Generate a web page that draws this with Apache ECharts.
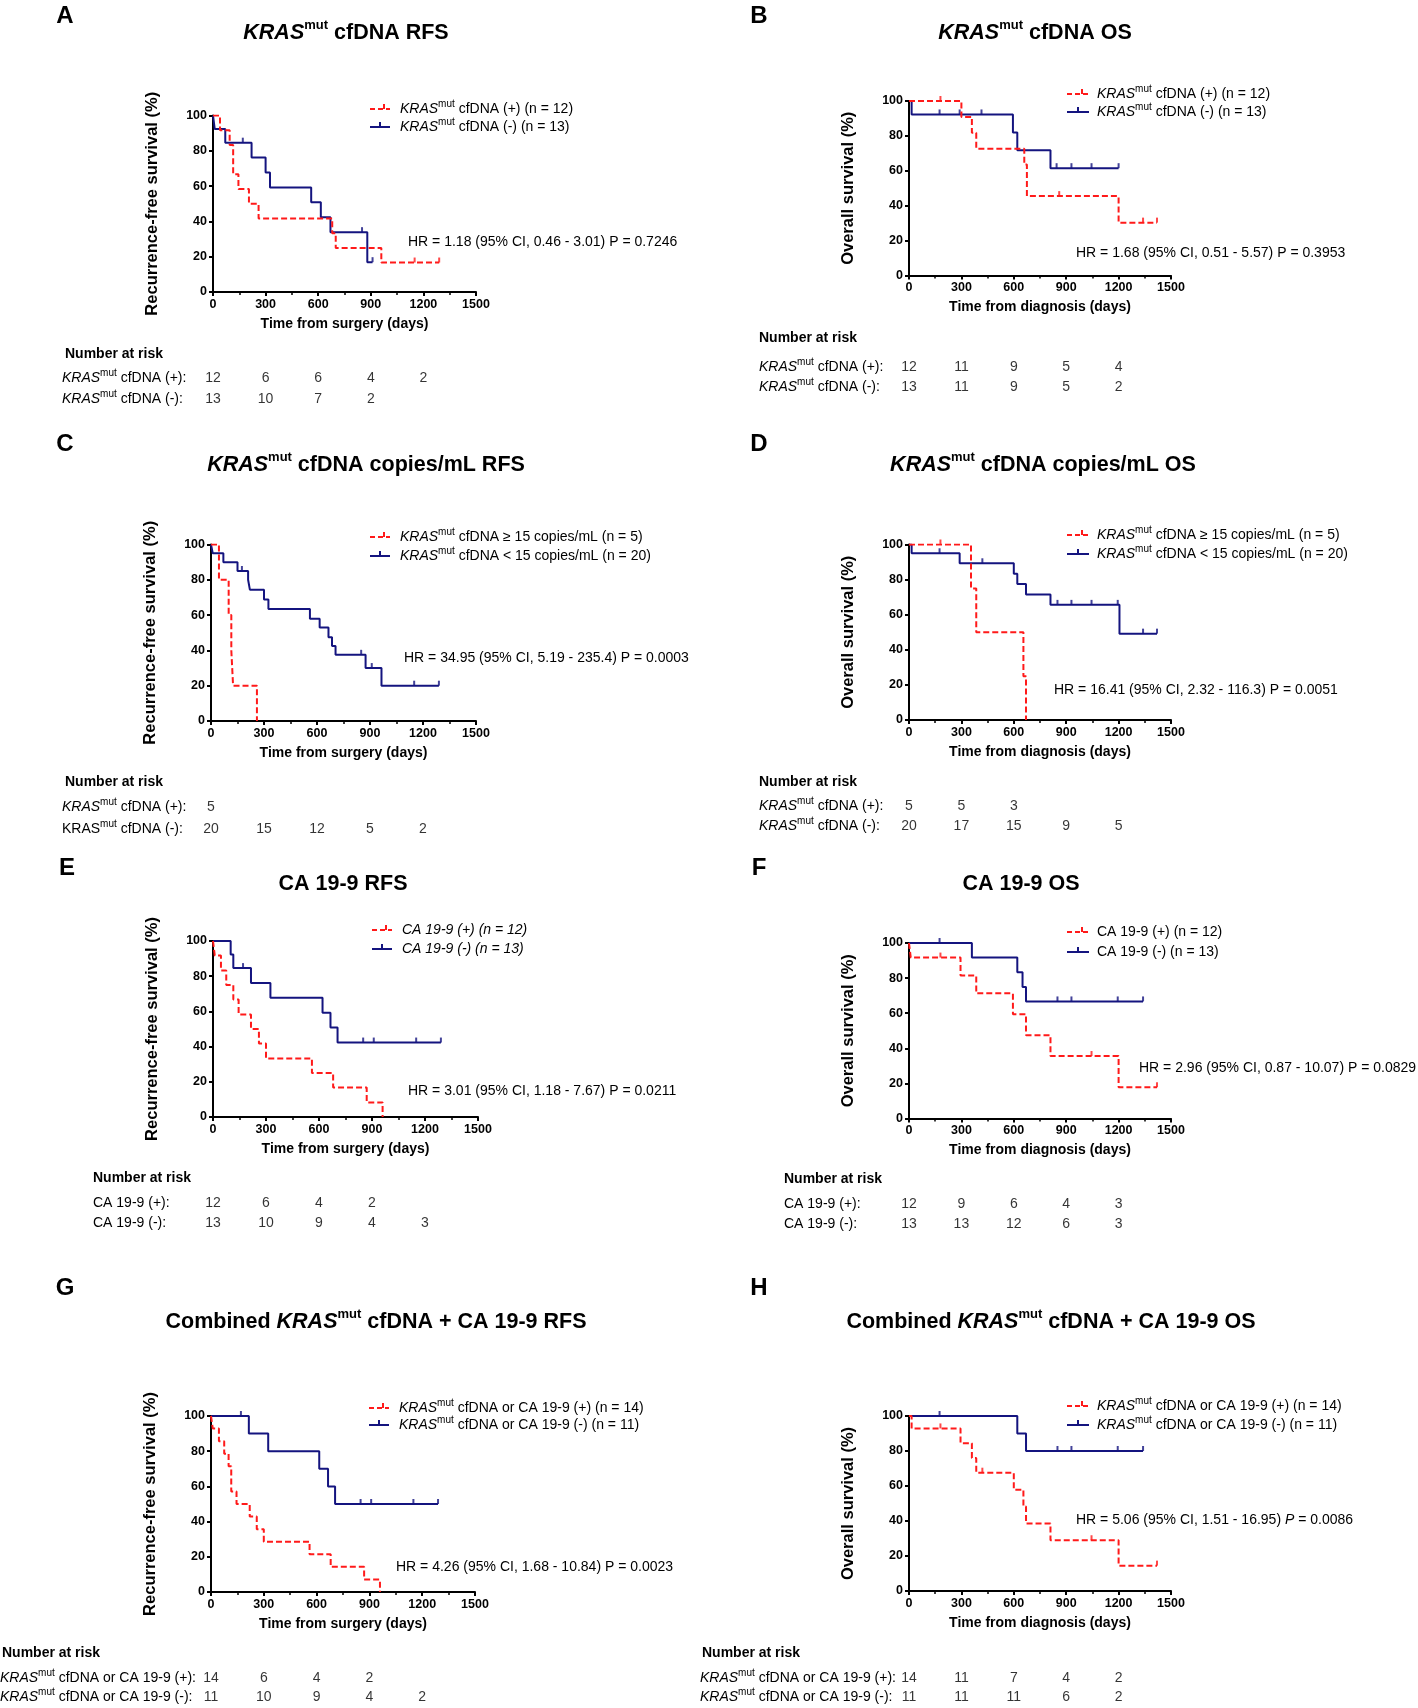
<!DOCTYPE html>
<html><head><meta charset="utf-8">
<script src="https://cdn.jsdelivr.net/npm/echarts@6/dist/echarts.min.js"></script>
<style>html,body{margin:0;padding:0;background:#fff}#c{width:1418px;height:1708px}</style>
</head><body><div id="c"></div>
<script>
// ---------------- DATA ----------------
const riskTimes = [0, 300, 600, 900, 1200];

// A: KRAS cfDNA RFS
const A_pos_t = [0, 40, 95, 115, 145, 205, 260, 680, 700, 960];
const A_pos_s = [100, 91.7, 83.3, 66.7, 58.3, 50, 41.7, 33.3, 25, 16.7];
const A_pos_end = 1290, A_pos_cens = [1150, 1290];
const A_neg_t = [0, 10, 70, 220, 300, 325, 560, 615, 670, 880];
const A_neg_s = [100, 92.3, 84.6, 76.2, 67.7, 59.2, 50.8, 42.3, 33.9, 16.9];
const A_neg_end = 910, A_neg_cens = [170, 850, 910];
const A_risk_pos = [12, 6, 6, 4, 2];
const A_risk_neg = [13, 10, 7, 2];

// B: KRAS cfDNA OS
const B_pos_t = [0, 300, 360, 385, 660, 675, 1200];
const B_pos_s = [100, 90.9, 81.8, 72.7, 63.6, 45.5, 30.3];
const B_pos_end = 1420, B_pos_cens = [180, 860, 1340, 1420];
const B_neg_t = [0, 15, 595, 620, 810];
const B_neg_s = [100, 92.3, 82, 71.8, 61.5];
const B_neg_end = 1200, B_neg_cens = [175, 290, 415, 845, 930, 1045, 1200];
const B_risk_pos = [12, 11, 9, 5, 4];
const B_risk_neg = [13, 11, 9, 5, 2];

// C: KRAS cfDNA copies/mL RFS
const C_pos_t = [0, 45, 100, 115, 125, 260];
const C_pos_s = [100, 80, 60, 40, 20, 0];
const C_pos_end = 260, C_pos_cens = [];
const C_neg_t = [0, 10, 70, 150, 210, 220, 300, 325, 560, 615, 665, 685, 705, 875, 965];
const C_neg_s = [100, 95, 90, 85, 80, 74.4, 68.8, 63.5, 58, 53, 47.5, 42.5, 37.5, 30, 20];
const C_neg_end = 1290, C_neg_cens = [175, 850, 910, 1150, 1290];
const C_risk_pos = [5];
const C_risk_neg = [20, 15, 12, 5, 2];

// D: KRAS cfDNA copies/mL OS
const D_pos_t = [0, 355, 385, 655, 670];
const D_pos_s = [100, 75, 50, 25, 0];
const D_pos_end = 670, D_pos_cens = [180];
const D_neg_t = [0, 15, 290, 600, 620, 670, 810, 1205];
const D_neg_s = [100, 95, 89.3, 83.4, 77.5, 71.5, 65.6, 49.2];
const D_neg_end = 1420, D_neg_cens = [175, 420, 850, 930, 1045, 1195, 1340, 1420];
const D_risk_pos = [5, 5, 3];
const D_risk_neg = [20, 17, 15, 9, 5];

// E: CA 19-9 RFS
const E_pos_t = [0, 10, 45, 75, 115, 145, 215, 260, 300, 560, 680, 870, 960];
const E_pos_s = [100, 91.7, 83.3, 75, 66.7, 58.3, 50, 41.7, 33.3, 25, 16.7, 8.3, 0];
const E_pos_end = 960, E_pos_cens = [];
const E_neg_t = [0, 100, 115, 215, 325, 620, 665, 705];
const E_neg_s = [100, 92.3, 84.6, 76.2, 67.7, 59.2, 50.8, 42.3];
const E_neg_end = 1290, E_neg_cens = [170, 850, 910, 1150, 1290];
const E_risk_pos = [12, 6, 4, 2];
const E_risk_neg = [13, 10, 9, 4, 3];

// F: CA 19-9 OS
const F_pos_t = [0, 10, 295, 385, 595, 670, 810, 1200];
const F_pos_s = [100, 91.7, 81.5, 71.3, 59.4, 47.5, 35.6, 17.8];
const F_pos_end = 1420, F_pos_cens = [180, 1045, 1420];
const F_neg_t = [0, 360, 620, 650, 670];
const F_neg_s = [100, 91.7, 83.3, 75, 66.7];
const F_neg_end = 1340, F_neg_cens = [175, 850, 930, 1195, 1340];
const F_risk_pos = [12, 9, 6, 4, 3];
const F_risk_neg = [13, 13, 12, 6, 3];

// G: Combined RFS
const G_pos_t = [0, 10, 45, 75, 100, 115, 145, 220, 260, 300, 560, 680, 870, 960];
const G_pos_s = [100, 92.9, 85.7, 78.6, 71.4, 57.1, 50, 42.9, 35.7, 28.6, 21.4, 14.3, 7.1, 0];
const G_pos_end = 960, G_pos_cens = [];
const G_neg_t = [0, 215, 325, 615, 665, 705];
const G_neg_s = [100, 90, 80, 70, 60, 50];
const G_neg_end = 1290, G_neg_cens = [170, 850, 910, 1150, 1290];
const G_risk_pos = [14, 6, 4, 2];
const G_risk_neg = [11, 10, 9, 4, 2];

// H: Combined OS
const H_pos_t = [0, 15, 295, 360, 385, 600, 655, 670, 810, 1200];
const H_pos_s = [100, 92.9, 84.5, 76, 67.6, 57.9, 48.3, 38.6, 29, 14.5];
const H_pos_end = 1420, H_pos_cens = [180, 420, 1045, 1420];
const H_neg_t = [0, 620, 670];
const H_neg_s = [100, 90, 80];
const H_neg_end = 1340, H_neg_cens = [175, 850, 930, 1195, 1340];
const H_risk_pos = [14, 11, 7, 4, 2];
const H_risk_neg = [11, 11, 11, 6, 2];

// ---------------- LAYOUT / STYLE ----------------
const FF = '"Liberation Sans", Arial, Helvetica, sans-serif';
const RED = '#ff1a1a', BLUE = '#14147f';

const RICH14 = {
  n: {fontSize: 14, fontFamily: FF, fontWeight: 'normal', fontStyle: 'normal', fill: '#000', color: '#000', lineHeight: 20, verticalAlign: 'middle'},
  k: {fontSize: 14, fontFamily: FF, fontWeight: 'normal', fontStyle: 'italic', fill: '#000', color: '#000', lineHeight: 20, verticalAlign: 'middle'},
  s: {fontSize: 10, fontFamily: FF, fontWeight: 'normal', fontStyle: 'normal', fill: '#000', color: '#000', lineHeight: 12, verticalAlign: 'top'}
};
const RICHT = {
  n: {fontSize: 21.5, fontFamily: FF, fontWeight: 'bold', fontStyle: 'normal', fill: '#000', color: '#000', lineHeight: 28, verticalAlign: 'middle'},
  k: {fontSize: 21.5, fontFamily: FF, fontWeight: 'bold', fontStyle: 'italic', fill: '#000', color: '#000', lineHeight: 28, verticalAlign: 'middle'},
  s: {fontSize: 13, fontFamily: FF, fontWeight: 'bold', fontStyle: 'normal', fill: '#000', color: '#000', lineHeight: 15, verticalAlign: 'top'}
};

const KP = '{k|KRAS}{s|mut}';
const panels = [
  {letter: 'A', lx: 65, ly: 16, title: KP + '{n| cfDNA RFS}', tx: 346, ty: 33,
   grid: {left: 213, top: 115.5, width: 263, height: 176.5},
   yName: 'Recurrence-free survival (%)', xName: 'Time from surgery (days)',
   pos: {t: A_pos_t, s: A_pos_s, end: A_pos_end, cens: A_pos_cens},
   neg: {t: A_neg_t, s: A_neg_s, end: A_neg_end, cens: A_neg_cens},
   leg: {x1: 370, x2: 390, tx: 400, y1: 109, y2: 127, l1: KP + '{n| cfDNA (+) (n = 12)}', l2: KP + '{n| cfDNA (-) (n = 13)}'},
   hr: {x: 408, y: 242, text: '{n|HR = 1.18 (95% CI, 0.46 - 3.01) P = 0.7246}'},
   risk: {hx: 65, hy: 354, lx: 62, y1: 378, y2: 399, l1: KP + '{n| cfDNA (+):}', l2: KP + '{n| cfDNA (-):}', pos: A_risk_pos, neg: A_risk_neg}},
  {letter: 'B', lx: 759, ly: 16, title: KP + '{n| cfDNA OS}', tx: 1035, ty: 33,
   grid: {left: 909, top: 101, width: 262, height: 174.5},
   yName: 'Overall survival (%)', xName: 'Time from diagnosis (days)',
   pos: {t: B_pos_t, s: B_pos_s, end: B_pos_end, cens: B_pos_cens},
   neg: {t: B_neg_t, s: B_neg_s, end: B_neg_end, cens: B_neg_cens},
   leg: {x1: 1067, x2: 1089, tx: 1097, y1: 94, y2: 112, l1: KP + '{n| cfDNA (+) (n = 12)}', l2: KP + '{n| cfDNA (-) (n = 13)}'},
   hr: {x: 1076, y: 253, text: '{n|HR = 1.68 (95% CI, 0.51 - 5.57) P = 0.3953}'},
   risk: {hx: 759, hy: 338, lx: 759, y1: 367, y2: 387, l1: KP + '{n| cfDNA (+):}', l2: KP + '{n| cfDNA (-):}', pos: B_risk_pos, neg: B_risk_neg}},
  {letter: 'C', lx: 65, ly: 444, title: KP + '{n| cfDNA copies/mL RFS}', tx: 366, ty: 465,
   grid: {left: 211, top: 544.5, width: 265, height: 176.5},
   yName: 'Recurrence-free survival (%)', xName: 'Time from surgery (days)',
   pos: {t: C_pos_t, s: C_pos_s, end: C_pos_end, cens: C_pos_cens},
   neg: {t: C_neg_t, s: C_neg_s, end: C_neg_end, cens: C_neg_cens},
   leg: {x1: 370, x2: 390, tx: 400, y1: 537, y2: 556, l1: KP + '{n| cfDNA ≥ 15 copies/mL (n = 5)}', l2: KP + '{n| cfDNA < 15 copies/mL (n = 20)}'},
   hr: {x: 404, y: 658, text: '{n|HR = 34.95 (95% CI, 5.19 - 235.4) P = 0.0003}'},
   risk: {hx: 65, hy: 782, lx: 62, y1: 807, y2: 829, l1: KP + '{n| cfDNA (+):}', l2: '{n|KRAS}{s|mut}{n| cfDNA (-):}', pos: C_risk_pos, neg: C_risk_neg}},
  {letter: 'D', lx: 759, ly: 444, title: KP + '{n| cfDNA copies/mL OS}', tx: 1043, ty: 465,
   grid: {left: 909, top: 544.5, width: 262, height: 175.5},
   yName: 'Overall survival (%)', xName: 'Time from diagnosis (days)',
   pos: {t: D_pos_t, s: D_pos_s, end: D_pos_end, cens: D_pos_cens},
   neg: {t: D_neg_t, s: D_neg_s, end: D_neg_end, cens: D_neg_cens},
   leg: {x1: 1067, x2: 1089, tx: 1097, y1: 535, y2: 554, l1: KP + '{n| cfDNA ≥ 15 copies/mL (n = 5)}', l2: KP + '{n| cfDNA < 15 copies/mL (n = 20)}'},
   hr: {x: 1054, y: 690, text: '{n|HR = 16.41 (95% CI, 2.32 - 116.3) P = 0.0051}'},
   risk: {hx: 759, hy: 782, lx: 759, y1: 806, y2: 826, l1: KP + '{n| cfDNA (+):}', l2: KP + '{n| cfDNA (-):}', pos: D_risk_pos, neg: D_risk_neg}},
  {letter: 'E', lx: 67, ly: 868, title: '{n|CA 19-9 RFS}', tx: 343, ty: 884,
   grid: {left: 213, top: 941, width: 265, height: 176},
   yName: 'Recurrence-free survival (%)', xName: 'Time from surgery (days)',
   pos: {t: E_pos_t, s: E_pos_s, end: E_pos_end, cens: E_pos_cens},
   neg: {t: E_neg_t, s: E_neg_s, end: E_neg_end, cens: E_neg_cens},
   leg: {x1: 372, x2: 392, tx: 402, y1: 930, y2: 949, l1: '{k|CA 19-9 (+) (n = 12)}', l2: '{k|CA 19-9 (-) (n = 13)}'},
   hr: {x: 408, y: 1091, text: '{n|HR = 3.01 (95% CI, 1.18 - 7.67) P = 0.0211}'},
   risk: {hx: 93, hy: 1178, lx: 93, y1: 1203, y2: 1223, l1: '{n|CA 19-9 (+):}', l2: '{n|CA 19-9 (-):}', pos: E_risk_pos, neg: E_risk_neg}},
  {letter: 'F', lx: 759, ly: 868, title: '{n|CA 19-9 OS}', tx: 1021, ty: 884,
   grid: {left: 909, top: 943, width: 262, height: 175.5},
   yName: 'Overall survival (%)', xName: 'Time from diagnosis (days)',
   pos: {t: F_pos_t, s: F_pos_s, end: F_pos_end, cens: F_pos_cens},
   neg: {t: F_neg_t, s: F_neg_s, end: F_neg_end, cens: F_neg_cens},
   leg: {x1: 1067, x2: 1089, tx: 1097, y1: 932, y2: 952, l1: '{n|CA 19-9 (+) (n = 12)}', l2: '{n|CA 19-9 (-) (n = 13)}'},
   hr: {x: 1139, y: 1068, text: '{n|HR = 2.96 (95% CI, 0.87 - 10.07) P = 0.0829}'},
   risk: {hx: 784, hy: 1179, lx: 784, y1: 1204, y2: 1224, l1: '{n|CA 19-9 (+):}', l2: '{n|CA 19-9 (-):}', pos: F_risk_pos, neg: F_risk_neg}},
  {letter: 'G', lx: 65, ly: 1288, title: '{n|Combined }' + KP + '{n| cfDNA + CA 19-9 RFS}', tx: 376, ty: 1322,
   grid: {left: 211, top: 1416, width: 264, height: 176},
   yName: 'Recurrence-free survival (%)', xName: 'Time from surgery (days)',
   pos: {t: G_pos_t, s: G_pos_s, end: G_pos_end, cens: G_pos_cens},
   neg: {t: G_neg_t, s: G_neg_s, end: G_neg_end, cens: G_neg_cens},
   leg: {x1: 369, x2: 389, tx: 399, y1: 1408, y2: 1425, l1: KP + '{n| cfDNA or CA 19-9 (+) (n = 14)}', l2: KP + '{n| cfDNA or CA 19-9 (-) (n = 11)}'},
   hr: {x: 396, y: 1567, text: '{n|HR = 4.26 (95% CI, 1.68 - 10.84) P = 0.0023}'},
   risk: {hx: 2, hy: 1653, lx: 0, y1: 1678, y2: 1697, l1: KP + '{n| cfDNA or CA 19-9 (+):}', l2: KP + '{n| cfDNA or CA 19-9 (-):}', pos: G_risk_pos, neg: G_risk_neg}},
  {letter: 'H', lx: 759, ly: 1288, title: '{n|Combined }' + KP + '{n| cfDNA + CA 19-9 OS}', tx: 1051, ty: 1322,
   grid: {left: 909, top: 1416, width: 262, height: 175},
   yName: 'Overall survival (%)', xName: 'Time from diagnosis (days)',
   pos: {t: H_pos_t, s: H_pos_s, end: H_pos_end, cens: H_pos_cens},
   neg: {t: H_neg_t, s: H_neg_s, end: H_neg_end, cens: H_neg_cens},
   leg: {x1: 1067, x2: 1089, tx: 1097, y1: 1406, y2: 1425, l1: KP + '{n| cfDNA or CA 19-9 (+) (n = 14)}', l2: KP + '{n| cfDNA or CA 19-9 (-) (n = 11)}'},
   hr: {x: 1076, y: 1520, text: '{n|HR = 5.06 (95% CI, 1.51 - 16.95) }{k|P}{n| = 0.0086}'},
   risk: {hx: 702, hy: 1653, lx: 700, y1: 1678, y2: 1697, l1: KP + '{n| cfDNA or CA 19-9 (+):}', l2: KP + '{n| cfDNA or CA 19-9 (-):}', pos: H_risk_pos, neg: H_risk_neg}}
];

// ---------------- BUILD ----------------
function km(t, s, end) {
  const d = t.map((x, i) => [x, s[i]]);
  if (end > t[t.length - 1]) d.push([end, s[s.length - 1]]);
  return d;
}
function survAt(t, s, c) {
  let v = s[0];
  for (let i = 0; i < t.length; i++) if (t[i] <= c) v = s[i];
  return v;
}
function txt(x, y, text, rich, extra) {
  return Object.assign({
    type: 'text', x: x, y: y, silent: true,
    style: {text: text, rich: rich, fill: '#000', fontFamily: FF, fontSize: 14,
      align: 'left', verticalAlign: 'middle', textAlign: 'left', textVerticalAlign: 'middle'}
  }, extra || {});
}

const option = {backgroundColor: '#fff', animation: false, grid: [], xAxis: [], yAxis: [], series: [], graphic: {elements: []}};
const G = option.graphic.elements;

panels.forEach(p => {
  const gi = option.grid.length;
  option.grid.push(Object.assign({containLabel: false}, p.grid));
  const lab = {color: '#000', fontWeight: 'bold', fontSize: 12.5, fontFamily: FF, formatter: v => String(v)};
  option.xAxis.push({
    gridIndex: gi, type: 'value', min: 0, max: 1500, interval: 300,
    axisLine: {show: true, onZero: false, lineStyle: {color: '#000', width: 2}},
    axisTick: {show: true, length: 4, lineStyle: {color: '#000', width: 2}},
    minorTick: {show: true, splitNumber: 2, length: 3, lineStyle: {color: '#000', width: 1.5}},
    splitLine: {show: false},
    axisLabel: Object.assign({margin: 6}, lab),
    name: p.xName, nameLocation: 'middle', nameGap: 25,
    nameTextStyle: {color: '#000', fontWeight: 'bold', fontSize: 14, fontFamily: FF}
  });
  option.yAxis.push({
    gridIndex: gi, type: 'value', min: 0, max: 100, interval: 20,
    axisLine: {show: true, onZero: false, lineStyle: {color: '#000', width: 2}},
    axisTick: {show: true, length: 4, lineStyle: {color: '#000', width: 2}},
    splitLine: {show: false},
    axisLabel: Object.assign({margin: 6}, lab),
    name: p.yName, nameLocation: 'middle', nameGap: 52,
    nameTextStyle: {color: '#000', fontWeight: 'bold', fontSize: 16.5, fontFamily: FF}
  });
  [[p.neg, BLUE, false], [p.pos, RED, true]].forEach(([c, color, dashed]) => {
    option.series.push({
      type: 'line', xAxisIndex: gi, yAxisIndex: gi, step: 'end', symbol: 'none', silent: true,
      data: km(c.t, c.s, c.end), z: dashed ? 4 : 3,
      lineStyle: {color: color, width: 2, type: dashed ? [6, 3] : 'solid'}
    });
    if (c.cens.length) option.series.push({
      type: 'scatter', xAxisIndex: gi, yAxisIndex: gi, symbol: 'rect', symbolSize: [2, 5], symbolOffset: [0, -2.5],
      silent: true, z: dashed ? 4 : 3, itemStyle: {color: color},
      data: c.cens.map(x => [x, survAt(c.t, c.s, x)])
    });
  });

  // risk table grid (shares x scale with plot)
  const ri = option.grid.length;
  option.grid.push({left: p.grid.left, width: p.grid.width, top: p.risk.y1, height: p.risk.y2 - p.risk.y1, containLabel: false});
  option.xAxis.push({gridIndex: ri, type: 'value', min: 0, max: 1500, show: false});
  option.yAxis.push({gridIndex: ri, type: 'value', min: 0, max: 1, inverse: true, show: false});
  option.series.push({
    type: 'scatter', xAxisIndex: ri, yAxisIndex: ri, symbolSize: 1, silent: true,
    itemStyle: {color: 'rgba(0,0,0,0)'},
    label: {show: true, position: 'inside', color: '#000', fontSize: 14, fontFamily: FF, formatter: q => String(q.data[2])},
    data: p.risk.pos.map((v, i) => [riskTimes[i], 0, v]).concat(p.risk.neg.map((v, i) => [riskTimes[i], 1, v]))
  });

  // panel letter + title
  G.push(txt(p.lx, p.ly, p.letter, null, {style: {text: p.letter, fill: '#000', fontFamily: FF, fontSize: 24, fontWeight: 'bold',
    align: 'center', verticalAlign: 'middle', textAlign: 'center', textVerticalAlign: 'middle'}}));
  const t = txt(p.tx, p.ty, p.title, RICHT);
  t.style.align = t.style.textAlign = 'center';
  G.push(t);

  // legend
  const L = p.leg;
  [[L.y1, RED, true, L.l1], [L.y2, BLUE, false, L.l2]].forEach(([y, color, dashed, label]) => {
    G.push({type: 'line', silent: true, shape: {x1: L.x1, y1: y, x2: L.x2, y2: y},
      style: {stroke: color, lineWidth: 2, lineDash: dashed ? [5, 3] : null}});
    const mx = (L.x1 + L.x2) / 2 + (dashed ? 4 : 0);
    G.push({type: 'line', silent: true, shape: {x1: mx, y1: y, x2: mx, y2: y - 5}, style: {stroke: color, lineWidth: 2}});
    G.push(txt(L.tx, y, label, RICH14));
  });

  // HR
  G.push(txt(p.hr.x, p.hr.y, p.hr.text, RICH14));

  // risk table text
  G.push(txt(p.risk.hx, p.risk.hy, 'Number at risk', null, {style: {text: 'Number at risk', fill: '#000', fontFamily: FF, fontSize: 14, fontWeight: 'bold',
    align: 'left', verticalAlign: 'middle', textAlign: 'left', textVerticalAlign: 'middle'}}));
  G.push(txt(p.risk.lx, p.risk.y1, p.risk.l1, RICH14));
  G.push(txt(p.risk.lx, p.risk.y2, p.risk.l2, RICH14));
});

const chart = echarts.init(document.getElementById('c'), null, {renderer: 'canvas'});
chart.setOption(option);
</script>
</body></html>
